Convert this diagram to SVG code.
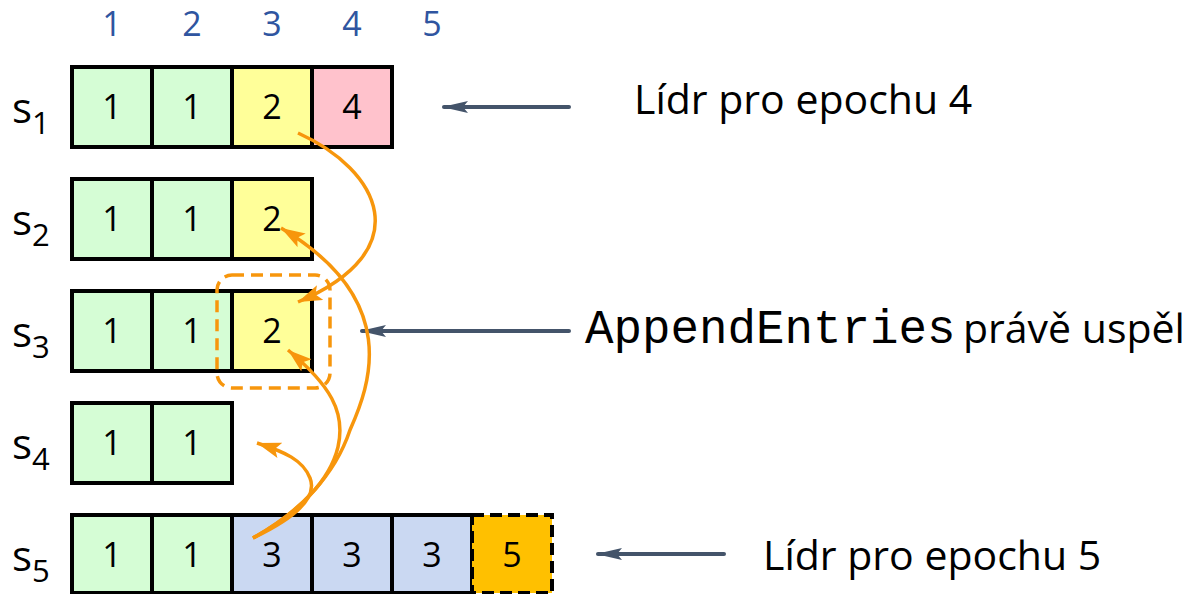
<svg xmlns="http://www.w3.org/2000/svg" width="1197" height="594" viewBox="0 0 1197 594">
<defs>
<style>
.cell{stroke:#000;stroke-width:4}
.g{fill:#D5FDD5}.y{fill:#FFFF99}.p{fill:#FFC2CC}.b{fill:#CAD8F2}
.o{fill:#FFC000;stroke:#000;stroke-width:4;stroke-dasharray:12 6}
.num{font-family:"Open Sans","Noto Sans",sans-serif;font-size:34px;text-anchor:middle;fill:#000}
.hdr{font-family:"Open Sans","Noto Sans",sans-serif;font-size:34px;text-anchor:middle;fill:#2F55A0}
.lbl{font-family:"Open Sans","Noto Sans",sans-serif;font-size:42px;fill:#000}
.sub{font-size:31px}
.txt{font-family:"Open Sans","Noto Sans",sans-serif;font-size:41px;fill:#000}
.mono{font-family:"Liberation Mono",monospace;font-size:47.5px;fill:#000}
.gray{stroke:#44546A;stroke-width:4;fill:none;stroke-linecap:round}
.orn{stroke:#F7960C;stroke-width:3.5;fill:none}
</style>
<marker id="ga" markerUnits="userSpaceOnUse" markerWidth="28" markerHeight="12" refX="24" refY="6" orient="auto">
<path d="M0,0 L26,6 L0,12 L5,6 z" fill="#44546A"/>
</marker>
<marker id="oa" markerUnits="userSpaceOnUse" markerWidth="26" markerHeight="16" refX="24" refY="8" orient="auto">
<path d="M0,0 L24,8 L0,16 L5,8 z" fill="#F7960C"/>
</marker>
</defs>
<g id="headers">
<text class="hdr" x="112" y="36">1</text>
<text class="hdr" x="192" y="36">2</text>
<text class="hdr" x="272" y="36">3</text>
<text class="hdr" x="352" y="36">4</text>
<text class="hdr" x="432" y="36">5</text>
</g>
<g id="s1">
<text class="lbl" x="12" y="123">s<tspan class="sub" dy="11">1</tspan></text>
<rect class="cell g" x="72" y="67" width="80" height="80"/>
<rect class="cell g" x="152" y="67" width="80" height="80"/>
<rect class="cell y" x="232" y="67" width="80" height="80"/>
<rect class="cell p" x="312" y="67" width="80" height="80"/>
<text class="num" x="112" y="119">1</text>
<text class="num" x="192" y="119">1</text>
<text class="num" x="272" y="119">2</text>
<text class="num" x="352" y="119">4</text>
</g>
<g id="s2">
<text class="lbl" x="12" y="235">s<tspan class="sub" dy="11">2</tspan></text>
<rect class="cell g" x="72" y="179" width="80" height="80"/>
<rect class="cell g" x="152" y="179" width="80" height="80"/>
<rect class="cell y" x="232" y="179" width="80" height="80"/>
<text class="num" x="112" y="231">1</text>
<text class="num" x="192" y="231">1</text>
<text class="num" x="272" y="231">2</text>
</g>
<g id="s3">
<text class="lbl" x="12" y="347">s<tspan class="sub" dy="11">3</tspan></text>
<rect class="cell g" x="72" y="291" width="80" height="80"/>
<rect class="cell g" x="152" y="291" width="80" height="80"/>
<rect class="cell y" x="232" y="291" width="80" height="80"/>
<text class="num" x="112" y="343">1</text>
<text class="num" x="192" y="343">1</text>
<text class="num" x="272" y="343">2</text>
</g>
<g id="s4">
<text class="lbl" x="12" y="459">s<tspan class="sub" dy="11">4</tspan></text>
<rect class="cell g" x="72" y="403" width="80" height="80"/>
<rect class="cell g" x="152" y="403" width="80" height="80"/>
<text class="num" x="112" y="455">1</text>
<text class="num" x="192" y="455">1</text>
</g>
<g id="s5">
<text class="lbl" x="12" y="571">s<tspan class="sub" dy="11">5</tspan></text>
<rect class="cell g" x="72" y="515" width="80" height="78"/>
<rect class="cell g" x="152" y="515" width="80" height="78"/>
<rect class="cell b" x="232" y="515" width="80" height="78"/>
<rect class="cell b" x="312" y="515" width="80" height="78"/>
<rect class="cell b" x="392" y="515" width="80" height="78"/>
<rect class="o" x="472" y="515" width="80" height="78"/>
<text class="num" x="112" y="567">1</text>
<text class="num" x="192" y="567">1</text>
<text class="num" x="272" y="567">3</text>
<text class="num" x="352" y="567">3</text>
<text class="num" x="432" y="567">3</text>
<text class="num" x="512" y="567">5</text>
</g>
<g id="highlight">
<rect x="217" y="275" width="113" height="113" rx="15" fill="none" stroke="#F7960C" stroke-width="3.5" stroke-dasharray="12 7"/>
</g>
<g id="labels">
<text class="txt" x="634" y="114">Lídr pro epochu 4</text>
<text class="mono" x="585" y="343">AppendEntries</text>
<text class="txt" x="963" y="343">právě uspěl</text>
<text class="txt" x="763" y="570">Lídr pro epochu 5</text>
</g>
<g id="connectors">
<line class="gray" x1="569" y1="107" x2="444" y2="107" marker-end="url(#ga)"/>
<line class="gray" x1="569" y1="331" x2="362" y2="331" marker-end="url(#ga)"/>
<line class="gray" x1="724" y1="554" x2="598" y2="554" marker-end="url(#ga)"/>
<path class="orn" d="M298,133 C380,170 420,250 298,302" marker-end="url(#oa)"/>
<path class="orn" d="M253,538 C300,512 335,475 350,430 C370,385 402,300 281,228" marker-end="url(#oa)"/>
<path class="orn" d="M253,538 C300,512 330,480 338,447 C346,412 330,385 288,350" marker-end="url(#oa)"/>
<path class="orn" d="M253,538 C295,518 318,498 310,478 C303,460 285,452 257,443" marker-end="url(#oa)"/>
</g>
</svg>
